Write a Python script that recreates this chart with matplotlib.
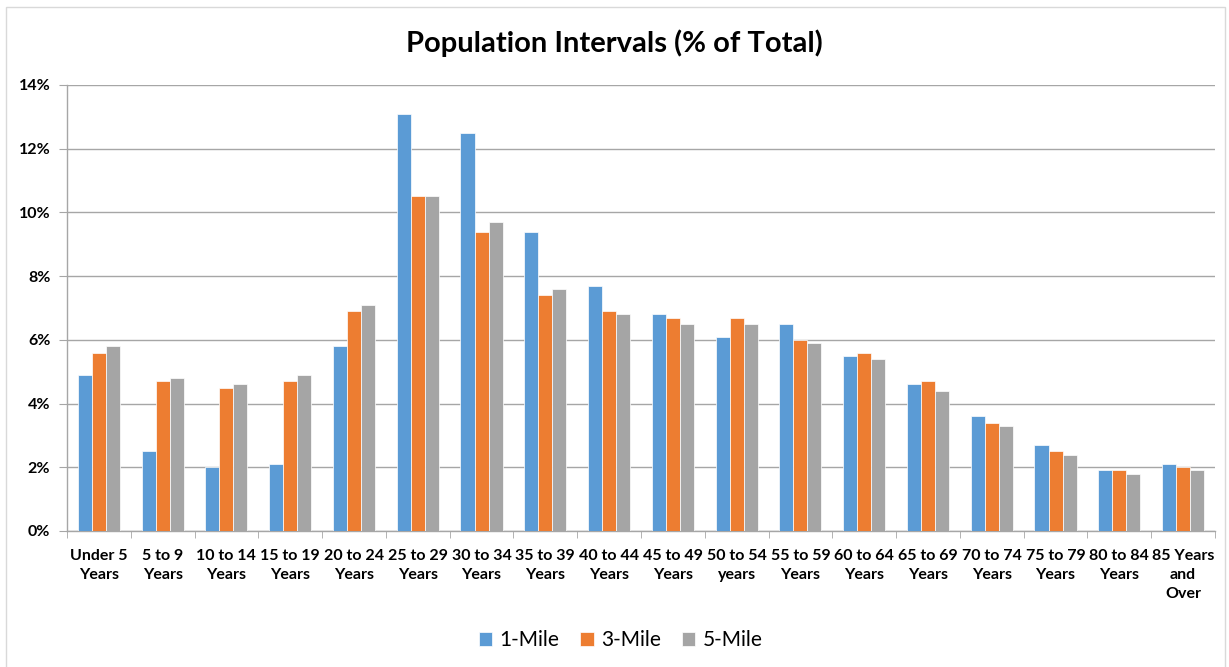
import matplotlib.pyplot as plt
import numpy as np
from matplotlib.patches import Rectangle
from matplotlib.ticker import FuncFormatter, MultipleLocator

plt.rcParams['font.family'] = ['Lato', 'DejaVu Sans']

categories = ['Under 5\nYears', '5 to 9\nYears', '10 to 14\nYears', '15 to 19\nYears',
              '20 to 24\nYears', '25 to 29\nYears', '30 to 34\nYears', '35 to 39\nYears',
              '40 to 44\nYears', '45 to 49\nYears', '50 to 54\nyears', '55 to 59\nYears',
              '60 to 64\nYears', '65 to 69\nYears', '70 to 74\nYears', '75 to 79\nYears',
              '80 to 84\nYears', '85 Years\nand\nOver']
mile1 = [4.9, 2.5, 2.0, 2.1, 5.8, 13.1, 12.5, 9.4, 7.7, 6.8, 6.1, 6.5, 5.5, 4.6, 3.6, 2.7, 1.9, 2.1]
mile3 = [5.6, 4.7, 4.5, 4.7, 6.9, 10.5, 9.4, 7.4, 6.9, 6.7, 6.7, 6.0, 5.6, 4.7, 3.4, 2.5, 1.9, 2.0]
mile5 = [5.8, 4.8, 4.6, 4.9, 7.1, 10.5, 9.7, 7.6, 6.8, 6.5, 6.5, 5.9, 5.4, 4.4, 3.3, 2.4, 1.8, 1.9]
series_names = ['1-Mile', '3-Mile', '5-Mile']
colors = ['#5B9BD5', '#ED7D31', '#A5A5A5']

fig = plt.figure(figsize=(12.29, 6.67), dpi=100)
ax = fig.add_axes([0.0545, 0.2039, 0.9341, 0.6687])

# outer chart border
fig.patches.append(Rectangle((6 / 1229, -0.01), 1219 / 1229, 1 - 7 / 667 + 0.01,
                             transform=fig.transFigure, fill=False,
                             edgecolor='#D9D9D9', linewidth=1))

x = np.arange(len(categories))
w = 0.22
for i, (vals, name, c) in enumerate(zip([mile1, mile3, mile5], series_names, colors)):
    ax.bar(x + (i - 1) * w, vals, width=w, color=c, label=name,
           edgecolor='white', linewidth=0.5, zorder=3)

ax.set_xlim(-0.5, len(categories) - 0.5)
ax.set_ylim(0, 14)
ax.yaxis.set_major_locator(MultipleLocator(2))
ax.yaxis.set_major_formatter(FuncFormatter(lambda v, p: f'{v:.0f}%'))
ax.grid(axis='y', color='#A6A6A6', linewidth=1, zorder=0)

ax.set_xticks(x)
ax.set_xticklabels(categories, fontsize=11.5, fontweight='bold', linespacing=1.45)
ax.set_xticks(np.arange(len(categories) + 1) - 0.5, minor=True)
ax.tick_params(axis='x', which='major', length=0, pad=13)
ax.tick_params(axis='x', which='minor', length=5, color='#A6A6A6')
ax.tick_params(axis='y', length=6, color='#A6A6A6', labelsize=11.5, pad=6)
for lab in ax.get_yticklabels():
    lab.set_fontweight('bold')

for s in ['top', 'right']:
    ax.spines[s].set_visible(False)
for s in ['left', 'bottom']:
    ax.spines[s].set_color('#A6A6A6')
    ax.spines[s].set_linewidth(1)

fig.text(0.5, 0.935, 'Population Intervals (% of Total)', ha='center', va='center',
         fontsize=21, fontweight='bold')

handles, labels = ax.get_legend_handles_labels()
fig.legend(handles, labels, loc='center', bbox_to_anchor=(0.505, 0.04), ncol=3,
           frameon=False, fontsize=15, handlelength=0.65, handleheight=0.65,
           handletextpad=0.35, columnspacing=1.0)

fig.savefig('out.png', dpi=100, facecolor='white')
